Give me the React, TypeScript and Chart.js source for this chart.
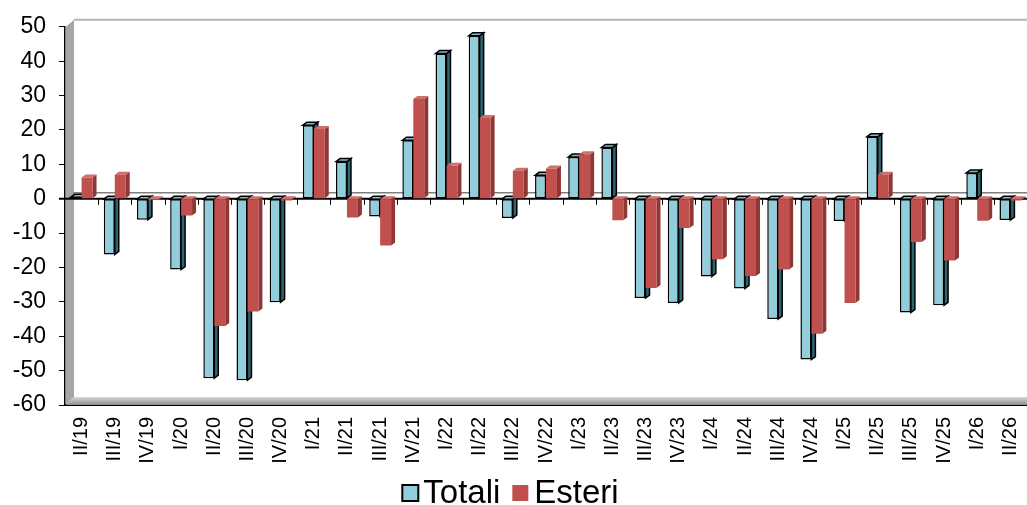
import React, { useEffect, useRef } from "react";
import { Chart, registerables } from "chart.js";

Chart.register(...registerables);

const labels = [
  "II/19", "III/19", "IV/19", "I/20", "II/20", "III/20", "IV/20", "I/21", "II/21", "III/21",
  "IV/21", "I/22", "II/22", "III/22", "IV/22", "I/23", "II/23", "III/23", "IV/23", "I/24",
  "II/24", "III/24", "IV/24", "I/25", "II/25", "III/25", "IV/25", "I/26", "II/26",
];

const totali = [
  0.4, -16.2, -6.1, -20.6, -52.2, -52.8, -30.1, 21.4, 10.8, -5.2,
  17.0, 42.2, 47.4, -5.6, 6.8, 12.1, 14.9, -28.9, -30.3, -22.6,
  -26.1, -35.0, -46.8, -6.5, 18.0, -33.1, -31.0, 7.5, -6.2,
];

const esteri = [
  6.2, 7.0, -0.4, -4.9, -37.0, -32.8, -0.5, 20.3, -5.5, -13.6,
  29.0, 9.6, 23.5, 8.1, 8.8, 12.9, -6.3, -26.0, -8.5, -17.6,
  -22.5, -20.6, -39.3, -30.3, 7.0, -12.6, -18.0, -6.4, -0.5,
];

const seriesNames = ["Totali", "Esteri"];
const yMin = -60;
const yMax = 50;
const yStep = 10;

const BLUE = "#92CDDC";
const BLUE_SIDE = "#2E6573";
const BLUE_TOP = "#7DBCCC";
const RED = "#C0504D";
const RED_SIDE = "#8E3735";
const RED_TOP = "#CF6E6B";
const DX = 4;
const DY = 3;
const FONT = "'Liberation Sans', Arial, sans-serif";

const frame3d = {
  id: "frame3d",
  beforeDatasetsDraw(chart: any) {
    const { ctx, chartArea: a, scales } = chart;
    const x = scales.x;
    const y = scales.y;
    const z = y.getPixelForValue(0);
    const right = chart.width;
    ctx.save();
    // left wall
    ctx.fillStyle = "#A6A6A6";
    ctx.beginPath();
    ctx.moveTo(a.left + 1, a.top);
    ctx.lineTo(a.left + 9, a.top - 7);
    ctx.lineTo(a.left + 9, a.bottom - 8);
    ctx.lineTo(a.left + 1, a.bottom);
    ctx.closePath();
    ctx.fill();
    // back top line
    ctx.strokeStyle = "#B4B4B4";
    ctx.lineWidth = 2;
    ctx.beginPath();
    ctx.moveTo(a.left + 9, a.top - 7);
    ctx.lineTo(right, a.top - 7);
    ctx.stroke();
    // floor
    const g = ctx.createLinearGradient(0, a.bottom - 8, 0, a.bottom);
    g.addColorStop(0, "#D9D9D9");
    g.addColorStop(1, "#8C8C8C");
    ctx.fillStyle = g;
    ctx.beginPath();
    ctx.moveTo(a.left + 1, a.bottom);
    ctx.lineTo(a.left + 9, a.bottom - 8);
    ctx.lineTo(right, a.bottom - 8);
    ctx.lineTo(right, a.bottom);
    ctx.closePath();
    ctx.fill();
    // zero plate
    ctx.strokeStyle = "#7F7F7F";
    ctx.lineWidth = 1.5;
    ctx.beginPath();
    ctx.moveTo(a.left + 8, z - 6);
    ctx.lineTo(right, z - 6);
    ctx.stroke();
    ctx.strokeStyle = "#000";
    ctx.lineWidth = 2;
    ctx.beginPath();
    ctx.moveTo(a.left - 6, z);
    ctx.lineTo(right, z);
    ctx.stroke();
    // category ticks on the zero line
    ctx.lineWidth = 1;
    const n = labels.length;
    const cw = (x.getPixelForValue(n - 1) - x.getPixelForValue(0)) / (n - 1);
    for (let i = 1; i < n; i++) {
      const px = Math.round(x.getPixelForValue(i) - cw / 2) + 0.5;
      ctx.beginPath();
      ctx.moveTo(px, z);
      ctx.lineTo(px, z + 6);
      ctx.stroke();
    }
    // 3D faces
    chart.data.datasets.forEach((ds: any, di: number) => {
      const meta = chart.getDatasetMeta(di);
      const side = di === 0 ? BLUE_SIDE : RED_SIDE;
      const topc = di === 0 ? BLUE_TOP : RED_TOP;
      const outline = di === 0;
      meta.data.forEach((el: any) => {
        const p = el.getProps(["x", "y", "base", "width"], true);
        const l = p.x - p.width / 2;
        const r = p.x + p.width / 2;
        const t = Math.min(p.y, p.base);
        const b = Math.max(p.y, p.base);
        ctx.lineWidth = 1.5;
        ctx.strokeStyle = "#000";
        ctx.fillStyle = side;
        ctx.beginPath();
        ctx.moveTo(r, t);
        ctx.lineTo(r + DX, t - DY);
        ctx.lineTo(r + DX, b - DY);
        ctx.lineTo(r, b);
        ctx.closePath();
        ctx.fill();
        if (outline) ctx.stroke();
        ctx.fillStyle = topc;
        ctx.beginPath();
        ctx.moveTo(l, t);
        ctx.lineTo(l + DX, t - DY);
        ctx.lineTo(r + DX, t - DY);
        ctx.lineTo(r, t);
        ctx.closePath();
        ctx.fill();
        if (outline) ctx.stroke();
      });
    });
    ctx.restore();
  },
};

const customLegend = {
  id: "customLegend",
  afterDraw(chart: any) {
    const { ctx } = chart;
    ctx.save();
    ctx.font = `33px ${FONT}`;
    ctx.textBaseline = "alphabetic";
    ctx.fillStyle = "#000";
    const box = 16;
    const gapText = 5;
    const gapItem = 12;
    const w1 = ctx.measureText(seriesNames[0]).width;
    const w2 = ctx.measureText(seriesNames[1]).width;
    const total = box + gapText + w1 + gapItem + box + gapText + w2;
    let cx = 510 - total / 2;
    const base = 503;
    const by = 485;
    ctx.fillStyle = BLUE;
    ctx.fillRect(cx, by, box, box);
    ctx.strokeStyle = "#000";
    ctx.lineWidth = 2;
    ctx.strokeRect(cx, by, box, box);
    cx += box + gapText;
    ctx.fillStyle = "#000";
    ctx.fillText(seriesNames[0], cx, base);
    cx += w1 + gapItem;
    ctx.fillStyle = RED;
    ctx.fillRect(cx, by, box, box);
    cx += box + gapText + 1;
    ctx.fillStyle = "#000";
    ctx.fillText(seriesNames[1], cx, base);
    ctx.restore();
  },
};

export default function App() {
  const ref = useRef<HTMLCanvasElement | null>(null);
  useEffect(() => {
    document.body.style.margin = "0";
    const canvas = ref.current;
    if (!canvas) return;
    const chart = new Chart(canvas, {
      type: "bar",
      data: {
        labels,
        datasets: [
          {
            label: seriesNames[0],
            data: totali,
            backgroundColor: BLUE,
            borderColor: "#000",
            borderWidth: 1.5,
            borderSkipped: false,
          },
          {
            label: seriesNames[1],
            data: esteri,
            backgroundColor: RED,
            borderWidth: 0,
          },
        ],
      },
      options: {
        responsive: false,
        animation: false,
        devicePixelRatio: 1,
        layout: { padding: { top: 22, right: -4, left: 0, bottom: 0 } },
        datasets: { bar: { categoryPercentage: 0.66, barPercentage: 1 } },
        plugins: {
          legend: { display: false },
          tooltip: { enabled: false },
        },
        scales: {
          x: {
            grid: { display: false, drawTicks: false },
            border: { display: true, color: "#000", width: 2 },
            ticks: {
              minRotation: 90,
              maxRotation: 90,
              autoSkip: false,
              padding: 12,
              color: "#000",
              font: { family: FONT, size: 20 },
            },
            afterFit(scale: any) {
              scale.height = 100;
              scale.paddingRight = 0;
              scale.paddingLeft = 0;
            },
          },
          y: {
            min: yMin,
            max: yMax,
            grid: { drawOnChartArea: false, drawTicks: true, tickLength: 6, color: "#000", lineWidth: 1 },
            border: { display: true, color: "#000", width: 1.5 },
            ticks: {
              stepSize: yStep,
              padding: 13,
              color: "#000",
              font: { family: FONT, size: 23 },
            },
            afterFit(scale: any) {
              scale.width = 65;
            },
          },
        },
      },
      plugins: [frame3d, customLegend],
    });
    return () => chart.destroy();
  }, []);
  return (
    <canvas ref={ref} width={1027} height={505} style={{ display: "block", width: 1027, height: 505 }} />
  );
}
